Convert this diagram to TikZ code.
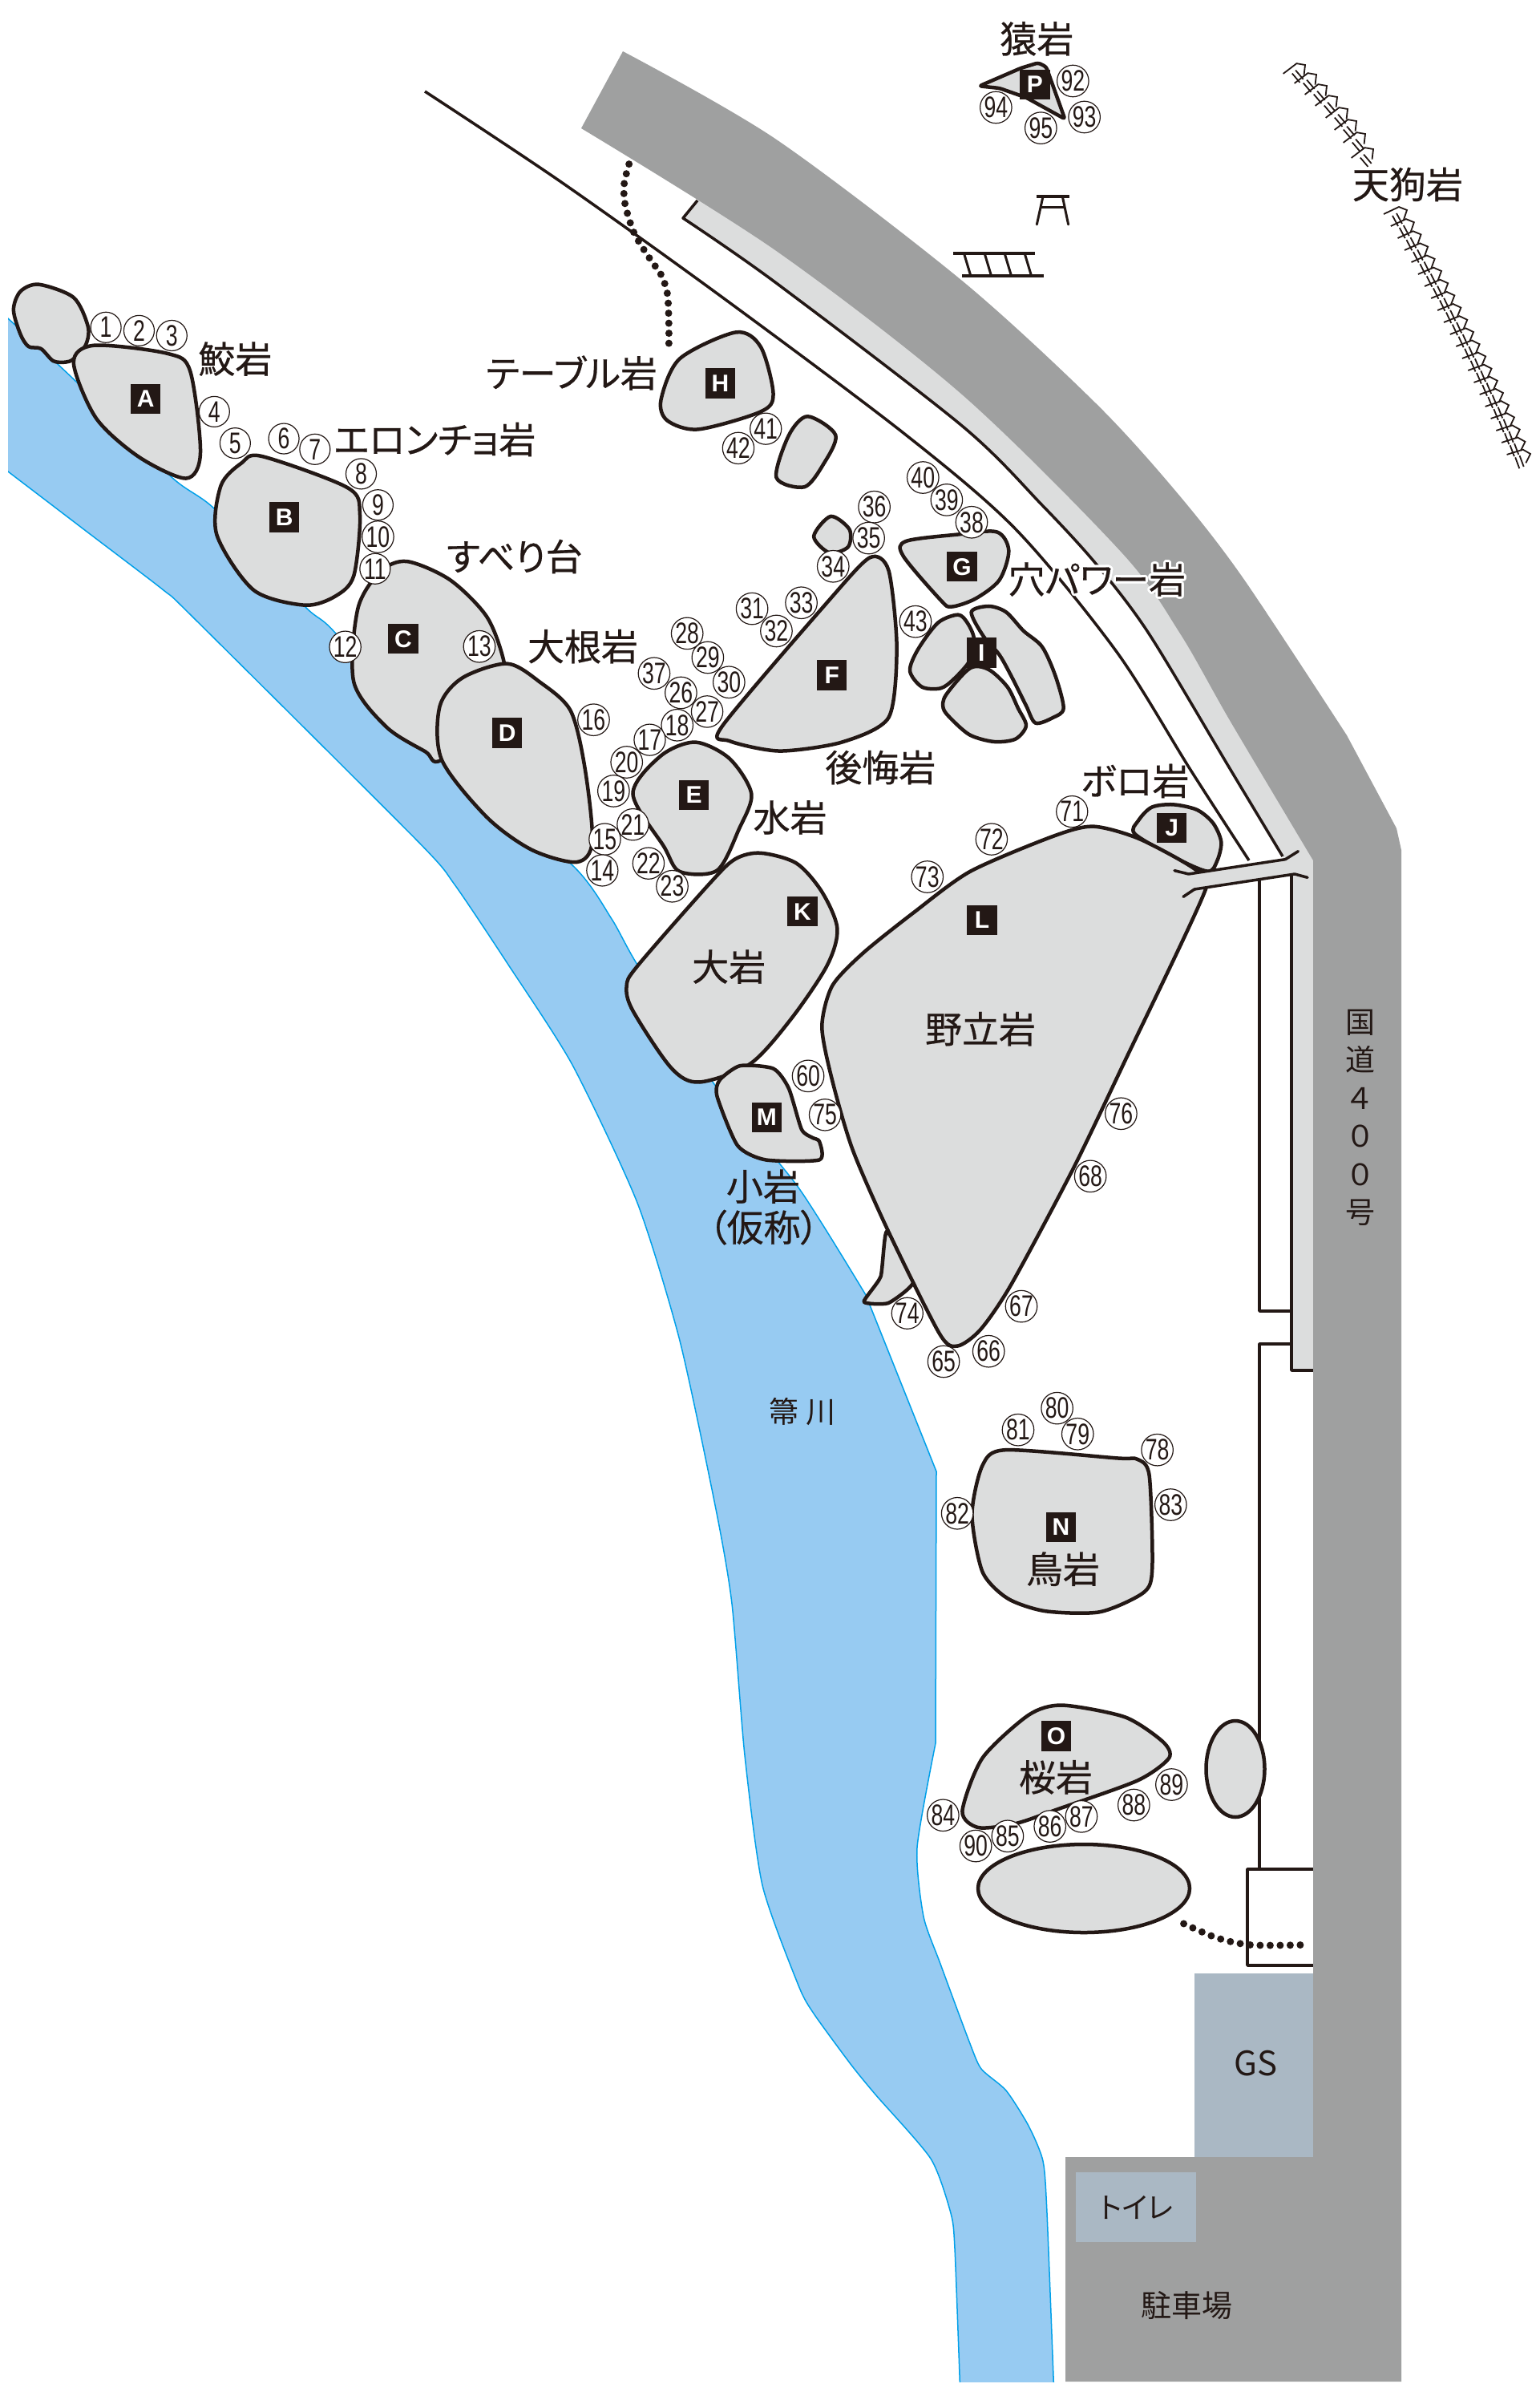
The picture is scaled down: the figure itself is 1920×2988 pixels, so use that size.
\documentclass[tikz,border=0pt]{standalone}
\usepackage{fontspec}
\usepackage[copies]{contour}
\newfontfamily\cjk[RawFeature={+palt}]{Noto Sans CJK JP}
\newfontfamily\cjkheavy[RawFeature={+palt},FakeBold=0.5]{Noto Sans CJK JP}
\newfontfamily\numfont[FakeStretch=0.72]{Liberation Sans}
\newfontfamily\markfont{Liberation Sans Bold}
\definecolor{ink}{HTML}{231815}
\definecolor{rocklight}{HTML}{DCDDDD}
\definecolor{roadgray}{HTML}{9FA0A0}
\definecolor{riverblue}{HTML}{97CBF2}
\definecolor{riveredge}{HTML}{00A0E9}
\definecolor{sitegray}{HTML}{AAB8C4}
\contourlength{3pt}
\tikzset{
  rockshape/.style={draw=ink,fill=rocklight,line width=4.5pt,line join=round},
  trackline/.style={draw=ink,line width=3.5pt,line join=round},
  dotline/.style={draw=ink,line width=9pt,line cap=round,dash pattern=on 0pt off 12.5pt},
  fenceline/.style={draw=ink,line width=1.8pt},
  markbox/.style={fill=ink,text=white,minimum size=37.5pt,inner sep=0pt,text depth=0pt,font=\markfont\fontsize{30}{30}\selectfont},
  numcircle/.style={circle,draw=ink,fill=white,line width=1.2pt,minimum size=38pt,inner sep=0pt,text=ink,font=\numfont\fontsize{37}{37}\selectfont},
  rocklabel/.style={inner sep=0pt,text=ink,font=\cjkheavy\fontsize{46}{46}\selectfont},
  roadtext/.style={inner sep=0pt,text=ink,font=\cjk\fontsize{37}{37}\selectfont},
  % working areas of the sheet, each with its own grid
  zoneA/.style={shift={(0,320)},x=.5102pt,y=-.5102pt},
  zoneB/.style={shift={(700,0)},x=.7781pt,y=-.7334pt},
  zoneC/.style={shift={(700,1000)},x=.6378pt,y=-.5102pt},
  zoneD/.style={shift={(1100,1700)},x=.523pt,y=-.5102pt},
  zoneE/.style={shift={(1000,2300)},x=.5102pt,y=-.4388pt},
  zoneF/.style={shift={(1400,960)},x=.3333pt,y=-.3333pt},
  zoneG/.style={shift={(1180,0)},x=.3333pt,y=-.3333pt},
  zoneH/.style={shift={(1100,600)},x=.3333pt,y=-.3333pt},
  zoneJ/.style={shift={(1560,60)},x=.3333pt,y=-.3333pt},
  zoneK/.style={shift={(700,40)},x=.3333pt,y=-.3333pt},
  fenceunit/.pic={
    \draw[fenceline] (-29,5) -- (-10,-4) -- (0,0) -- (-4,12);
    \draw[fenceline] (-18,7) -- (-11,20);
    \draw[fenceline] (-13,4) -- (-6,17);
  }
}
\begin{document}
\begin{tikzpicture}[x=1pt,y=-1pt]
\useasboundingbox (0,0) rectangle (1920,2988);
\fill[white] (0,0) rectangle (1920,2988);

% river
\begin{scope}
\clip (10,0) rectangle (1920,2970);
\draw[fill=riverblue,draw=riveredge,line width=1.5pt]
  plot[smooth,tension=.4] coordinates {(-11,378) (92,473) (214,595) (268,635) (380,756) (418,789) (551,947) (714,1079) (763,1146) (795,1203) (891,1352) (996,1481) (1080,1615)}
  -- (1168,1835) -- (1167,2174)
  -- plot[smooth,tension=.4] coordinates {(1167,2174) (1144,2304) (1152,2390) (1173,2449) (1209,2546) (1224,2580) (1255,2607) (1283,2651) (1301,2695) (1306,2760) (1315,2990)}
  -- plot[smooth,tension=.4] coordinates {(1198,2990) (1191,2804) (1186,2760) (1161,2692) (1092,2612) (1061,2574) (1015,2511) (996,2476) (951,2351) (929,2189) (913,2000) (893,1882) (848,1672) (795,1500) (714,1328) (634,1203) (567,1103) (522,1050) (240,769) (204,736) (107,662) (-11,572)}
  -- cycle;
\end{scope}

% road, shoulder, GS
\fill[rocklight] (870,250) -- (852,272)
  -- plot[smooth] coordinates {(852,272) (967,352) (1200,531) (1300,630) (1367,703) (1433,790) (1535,960) (1600,1068)}
  -- (1611,1090) -- (1611,1709) -- (1638,1709) -- (1638,1073) -- (1600,920) -- (1450,720) -- (1250,500) -- (1050,340) -- (880,230) -- cycle;
\fill[sitegray] (1490,2461) rectangle (1640,2692);
\fill[roadgray] plot[smooth] coordinates {(777,64) (967,173) (1200,350) (1367,503) (1467,613) (1550,720) (1680,917)}
  -- (1742,1033) -- (1748,1060) -- (1748,2970) -- (1329,2970) -- (1329,2690) -- (1638,2690) -- (1638,1073)
  -- plot[smooth] coordinates {(1638,1073) (1535,900) (1472,790) (1400,690) (1200,492) (967,312) (725,160)} -- cycle;
\fill[sitegray] (1342,2709) rectangle (1492,2796);

% tracks
\draw[trackline] plot[smooth] coordinates {(530,114) (700,227) (900,370) (1127,540) (1267,660) (1393,813) (1485,960) (1558,1073)};
\draw[trackline] (870,250) -- (852,272) -- plot[smooth] coordinates {(852,272) (967,352) (1200,531) (1300,630) (1367,703) (1433,790) (1535,960) (1600,1068)};
\draw[trackline] (1571,1098) -- (1571,1635) -- (1611,1635);
\draw[trackline] (1611,1092) -- (1611,1709) -- (1638,1709);
\draw[trackline] (1611,1676) -- (1571,1676) -- (1571,2331);
\draw[trackline] (1638,2331) -- (1556,2331) -- (1556,2451) -- (1638,2451);

% rocks
\begin{scope}[zoneA]
\draw[rockshape] plot[smooth cycle] coordinates {(210,215) (215,170) (180,100) (95,68) (50,85) (33,130) (50,190) (70,220) (100,225) (130,255) (160,258) (180,250)};
\draw[rockshape] plot[smooth cycle] coordinates {(230,217) (410,237) (465,280) (490,480) (455,542) (340,490) (235,395) (180,260)};
\draw[rockshape] plot[smooth cycle] coordinates {(640,488) (850,565) (880,630) (865,780) (820,830) (745,852) (620,815) (530,680) (540,560) (590,505)};
\draw[rockshape] plot[smooth cycle] coordinates {(995,745) (1100,790) (1190,880) (1232,990) (1240,1100) (1080,1230) (1040,1210) (945,1150) (865,1040) (875,860) (930,770)};
\draw[rockshape] plot[smooth cycle] coordinates {(1240,995) (1320,1040) (1395,1110) (1430,1250) (1448,1430) (1410,1480) (1300,1450) (1190,1370) (1080,1230) (1075,1100) (1130,1030)};
\end{scope}
\begin{scope}[zoneB]
\draw[rockshape] plot[smooth cycle] coordinates {(215,1262) (270,1290) (305,1350) (285,1410) (250,1480) (190,1482) (165,1440) (115,1350) (160,1285)};
\draw[rockshape] plot[smooth cycle,tension=.45] coordinates {(495,948) (525,970) (538,1100) (525,1220) (450,1262) (350,1277) (270,1260) (258,1235) (430,1020)};
\draw[rockshape] plot[smooth cycle] coordinates {(280,565) (320,590) (340,670) (320,700) (220,730) (170,715) (160,680) (190,610)};
\draw[rockshape] plot[smooth cycle] coordinates {(395,708) (440,740) (420,790) (390,828) (345,812) (365,740)};
\draw[rockshape] plot[smooth cycle] coordinates {(432,878) (462,900) (460,930) (430,940) (405,912)};
\end{scope}
\begin{scope}[zoneH]
\draw[rockshape] plot[smooth cycle] coordinates {(90,225) (280,200) (430,190) (475,260) (440,370) (350,440) (260,470) (220,445) (80,280)};
\draw[rockshape] plot[smooth cycle] coordinates {(285,500) (320,530) (345,590) (330,670) (270,740) (220,775) (150,770) (105,710) (135,630) (210,530)};
\draw[rockshape] plot[smooth cycle] coordinates {(335,490) (400,468) (465,490) (530,560) (600,620) (650,730) (680,850) (640,885) (575,905) (540,840) (490,740) (440,650) (380,580)};
\draw[rockshape] plot[smooth cycle] coordinates {(330,700) (400,705) (470,770) (510,850) (540,915) (500,965) (420,975) (330,950) (260,890) (230,850) (240,800)};
\end{scope}
\begin{scope}[zoneC]
\draw[rockshape] plot[smooth cycle] coordinates {(390,125) (460,150) (510,220) (540,310) (520,400) (450,530) (370,640) (270,685) (215,650) (140,510) (128,450) (150,400) (290,200) (340,140)};
\draw[rockshape] plot[smooth cycle,tension=.4] coordinates {(350,645) (415,652) (445,700) (470,800) (490,820) (505,830) (505,875) (400,875) (345,840) (305,720) (310,680)};
\draw[rockshape] plot[smooth cycle,tension=.3] coordinates {(637,1050) (625,1160) (592,1222) (640,1225) (690,1170)};
\end{scope}
\begin{scope}[zoneF]
\draw[rockshape] plot[smooth cycle] coordinates {(47,240) (60,190) (110,140) (190,130) (280,150) (340,200) (370,270) (355,340) (320,380) (200,330)};
\end{scope}
\begin{scope}[zoneC]
\draw[rockshape] plot[smooth cycle,tension=.45] coordinates {(1240,165) (1130,90) (1040,60) (960,85) (800,170) (690,270) (590,370) (530,450) (510,550) (530,680) (570,850) (640,1050) (740,1300) (775,1330) (820,1290) (880,1180) (1000,900) (1100,640) (1260,215)};
\end{scope}
\begin{scope}[zoneD]
\draw[rockshape] plot[smooth cycle,tension=.45] coordinates {(295,212) (560,232) (610,235) (638,275) (645,500) (625,560) (520,608) (390,606) (300,575) (240,510) (215,370) (240,250)};
\draw[rockshape] plot[smooth cycle,tension=.45] coordinates {(430,836) (580,865) (670,925) (685,965) (610,1020) (420,1090) (320,1125) (230,1135) (192,1095) (240,965) (350,860)};
\end{scope}
\draw[rockshape] (1352,2355) ellipse (132 and 55);
\draw[rockshape] (1541,2206) ellipse (36.5 and 60);
\begin{scope}[zoneG]
\draw[rockshape,rounded corners=3pt] (125,322) -- (280,255) -- (345,235) -- (375,250) -- (445,445) -- (300,365) -- (200,330) -- cycle;
% torii and steps
\draw[ink,line width=3.5pt] (338,735) -- (462,735);
\draw[ink,line width=3pt,line cap=round] (362,740) -- (340,840);
\draw[ink,line width=3pt,line cap=round] (437,740) -- (458,840);
\draw[ink,line width=3pt] (352,775) -- (445,775);
\draw[ink,line width=4pt] (27,947) -- (333,947);
\draw[ink,line width=4pt] (60,1033) -- (366,1033);
\foreach \stepx in {68,145,220,295}
  \draw[ink,line width=3pt] (\stepx,950) -- ({\stepx+24},1030);
\end{scope}

% bridge over the rock edge
\begin{scope}[zoneF]
\fill[rocklight] (248,390) -- (610,335) -- (680,300) -- (712,340) -- (712,400) -- (645,390) -- (270,447) -- cycle;
\draw[trackline,line cap=round] (195,377) -- (248,390) -- (610,335) -- (658,305);
\draw[trackline,line cap=round] (228,475) -- (270,447) -- (645,390) -- (693,403);
\end{scope}

% dotted paths
\begin{scope}[zoneK]
\draw[dotline] plot[smooth] coordinates {(254,494) (236,567) (239,643) (273,752) (332,848) (375,910) (398,982) (403,1094) (403,1170)};
\end{scope}
\begin{scope}[zoneD]
\draw[dotline] plot[smooth] coordinates {(720,1370) (800,1405) (880,1422) (1000,1422)};
\end{scope}

% fence of the long rock
\foreach \fx/\fy in {1628/81,1642/93,1655/107,1668/121,1681/136,1692/151,1703/167,1713/186}
  \pic[rotate=12] at (\fx,\fy) {fenceunit};
\foreach \i in {0,...,20}
  \pic[rotate={-.4*\i}] at ({1755+8.9*\i-.06*\i*\i},{262+15.2*\i}) {fenceunit};

% numbered points
\begin{scope}[zoneA]
\foreach \num/\pos in {1/{259,173},2/{340,181},3/{420,193},4/{524,379},5/{575,456},6/{694,445},7/{770,471},8/{883,531},9/{924,607},10/{924,685},11/{917,763},12/{844,954},13/{1172,953}}
  \node[numcircle] (n\num) at (\pos) {\num};
\end{scope}
\begin{scope}[zoneB]
\foreach \num/\pos in {41/{328,729},42/{284,762},40/{580,812},39/{618,850},38/{658,888},36/{502,862},35/{493,915},34/{436,963},33/{385,1025},31/{306,1035},32/{345,1073},28/{202,1077},29/{235,1118},30/{269,1160},37/{149,1145},26/{192,1178},27/{234,1210},18/{186,1233},17/{142,1258},20/{105,1296},19/{84,1345},21/{115,1402},15/{70,1427},14/{66,1480},22/{140,1468},23/{178,1507},16/{52,1224},43/{568,1057},71/{819,1380},72/{690,1427},73/{587,1491}}
  \node[numcircle] (n\num) at (\pos) {\num};
\end{scope}
\begin{scope}[zoneC]
\foreach \num/\pos in {60/{483,670},75/{516,765},76/{1095,762},68/{1035,915},67/{900,1233},66/{836,1343},65/{748,1368},74/{677,1250}}
  \node[numcircle] (n\num) at (\pos) {\num};
\end{scope}
\begin{scope}[zoneD]
\foreach \num/\pos in {80/{418,110},81/{325,163},79/{467,173},78/{657,212},83/{689,346},82/{180,367},89/{691,1030},88/{601,1080},87/{476,1108},86/{401,1132},85/{300,1156},84/{146,1105},90/{224,1180}}
  \node[numcircle] (n\num) at (\pos) {\num};
\end{scope}
\begin{scope}[zoneG]
\foreach \num/\pos in {92/{475,303},93/{518,438},94/{187,402},95/{355,479}}
  \node[numcircle] (n\num) at (\pos) {\num};
\end{scope}

% letter marks
\begin{scope}[zoneA]
\node[markbox] (markA) at (356,348) {A};
\node[markbox] (markB) at (695,637) {B};
\node[markbox] (markC) at (986,934) {C};
\node[markbox] (markD) at (1240,1164) {D};
\end{scope}
\begin{scope}[zoneB]
\node[markbox] (markE) at (213,1352) {E};
\node[markbox] (markF) at (434,1148) {F};
\node[markbox] (markH) at (255,652) {H};
\end{scope}
\begin{scope}[zoneH]
\node[markbox] (markG) at (300,320) {G};
\node[markbox] (markI) at (373,642) {I};
\end{scope}
\begin{scope}[zoneF]
\node[markbox] (markJ) at (185,218) {J};
\end{scope}
\begin{scope}[zoneC]
\node[markbox] (markK) at (472,268) {K};
\node[markbox] (markL) at (823,289) {L};
\node[markbox] (markM) at (402,771) {M};
\end{scope}
\begin{scope}[zoneD]
\node[markbox] (markN) at (427,401) {N};
\node[markbox] (markO) at (416,911) {O};
\end{scope}
\begin{scope}[zoneG]
\node[markbox] (markP) at (333,316) {P};
\end{scope}

% names
\begin{scope}[zoneA]
\node[rocklabel] (nameSame) at (575,250) {鮫岩};
\node[rocklabel] (nameEron) at (1063,447) {エロンチョ岩};
\node[rocklabel] (nameSuberi) at (1258,733) {すべり台};
\node[rocklabel] (nameDaikon) at (1425,953) {大根岩};
\end{scope}
\node[rocklabel] (nameTable) at (713,465) {テーブル岩};
\begin{scope}[zoneH]
\node[rocklabel] (nameAna) at (805,372) {\contour{white}{穴パワー岩}};
\end{scope}
\begin{scope}[zoneB]
\node[rocklabel] (nameKokai) at (512,1305) {後悔岩};
\node[rocklabel] (nameMizu) at (367,1390) {水岩};
\node[rocklabel] (nameBoro) at (920,1328) {ボロ岩};
\end{scope}
\begin{scope}[zoneC]
\node[rocklabel] (nameO) at (328,403) {大岩};
\node[rocklabel] (nameNodate) at (820,555) {野立岩};
\node[rocklabel] (nameKo) at (395,940) {小岩};
\node[rocklabel] (nameKari) at (396,1040) {（仮称）};
\node[roadtext] (nameRiver) at (472,1490) {箒 川};
\end{scope}
\begin{scope}[zoneD]
\node[rocklabel] (nameTori) at (432,503) {鳥岩};
\node[rocklabel] (nameSakura) at (415,1012) {桜岩};
\end{scope}
\begin{scope}[zoneJ]
\node[rocklabel] (nameTengu) at (588,510) {天狗岩};
\end{scope}
\begin{scope}[zoneG]
\node[rocklabel] (nameSaru) at (340,145) {猿岩};
\end{scope}
\begin{scope}[zoneE]
\node[roadtext,font=\cjk\fontsize{42}{42}\selectfont] (nameGS) at (1110,623) {GS};
\node[roadtext,font=\cjk\fontsize{36}{36}\selectfont] (nameToilet) at (818,1032) {トイレ};
\node[roadtext,font=\cjk\fontsize{38}{38}\selectfont] (nameParking) at (942,1310) {駐車場};
\end{scope}
\node[roadtext,align=center,font=\cjk\fontsize{37}{47.5}\selectfont] (nameRoad) at (1697,1394) {国\\道\\４\\０\\０\\号};
\end{tikzpicture}
\end{document}
